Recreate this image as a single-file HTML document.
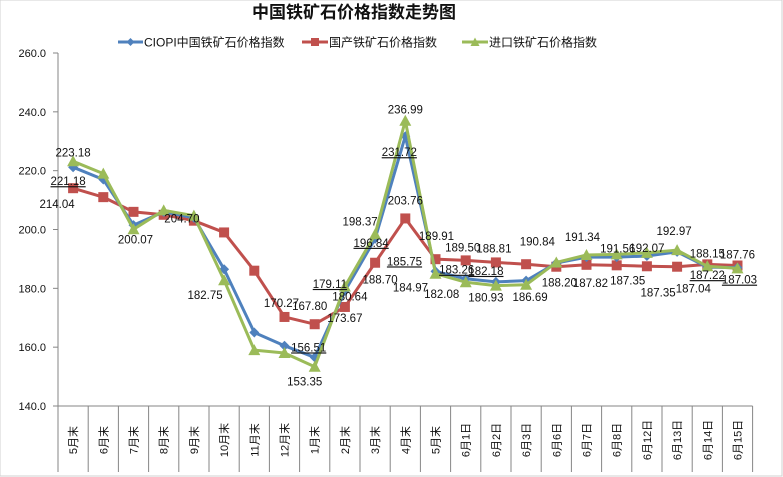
<!DOCTYPE html>
<html><head><meta charset="utf-8"><style>
body{margin:0;background:#fff;}
svg{display:block;font-family:"Liberation Sans","Noto Sans CJK SC",sans-serif;}
</style></head><body>
<svg id="chart" width="783" height="477">
<rect x="0" y="0" width="782" height="476" fill="#fff" stroke="#d0d0d0"/>
<text x="354" y="18" text-anchor="middle" font-size="17" font-weight="bold" fill="#111">中国铁矿石价格指数走势图</text>
<g>
 <g>
  <line x1="118" y1="42" x2="143" y2="42" stroke="#4f81bd" stroke-width="3"/>
  <path d="M130.5 38 L134.5 42 L130.5 46 L126.5 42Z" fill="#4f81bd"/>
  <text x="144" y="46.5" font-size="12" fill="#111">CIOPI中国铁矿石价格指数</text>
 </g>
 <g>
  <line x1="302" y1="42" x2="328" y2="42" stroke="#c0504d" stroke-width="3"/>
  <rect x="311" y="38" width="8" height="8" fill="#c0504d"/>
  <text x="329" y="46.5" font-size="12" fill="#111">国产铁矿石价格指数</text>
 </g>
 <g>
  <line x1="462" y1="42" x2="488" y2="42" stroke="#9bbb59" stroke-width="3"/>
  <path d="M475 37.5 L479.5 46 L470.5 46Z" fill="#9bbb59"/>
  <text x="489" y="46.5" font-size="12" fill="#111">进口铁矿石价格指数</text>
 </g>
</g>
<g id="axes"></g>
<g id="series"></g>
<g id="labels"></g>
</svg>
<script>
const categories=["5月末","6月末","7月末","8月末","9月末","10月末","11月末","12月末","1月末","2月末","3月末","4月末","5月末","6月1日","6月2日","6月3日","6月6日","6月7日","6月8日","6月12日","6月13日","6月14日","6月15日"];
const ciopi=[221.18,217,201.5,206,204,186.5,165,160.5,156.51,179.11,196.84,231.72,185.75,183.26,182.18,182.6,188.6,190.6,190.6,191,192.4,187.22,187.03];
const domestic=[214.04,211,206,205,203,199,186,170.27,167.80,173.67,188.70,203.76,189.91,189.50,188.81,188.2,187.35,188.0,187.82,187.5,187.35,188.15,187.76];
const imported=[223.18,219,200.07,206.5,204.70,182.75,159,158,153.35,180.64,198.37,236.99,184.97,182.08,180.93,181.2,188.8,191.34,191.56,192.07,192.97,187.5,186.8];
const ciopiLabels=["221.18","","","","","","","","156.51","179.11","196.84","231.72","185.75","183.26","182.18","","","","","","","187.22","187.03"];
const domesticLabels=["214.04","","","","","","","170.27","167.80","173.67","188.70","203.76","189.91","189.50","188.81","","188.20","187.82","187.35","","187.35","188.15","187.76"];
const importLabels=["223.18","","200.07","","204.70","182.75","","","153.35","180.64","198.37","236.99","184.97","182.08","180.93","186.69","190.84","191.34","191.56","192.07","192.97","187.04",""];
const yTicks=[140,160,180,200,220,240,260];
const yTickLabels=["140.0","160.0","180.0","200.0","220.0","240.0","260.0"];
// label placement offsets (style, not data)
const ciopiOff=[[-5,18],0,0,0,0,0,0,0,[-6,-6],[-15,-3],[-4,8],[-6,20],[-31,-6],[-9,-5],[-10,-7],0,0,0,0,0,0,[0,12],[2,16]];
const domOff=[[-16,20],0,0,0,0,0,0,[-3,-10],[-5,-14],[0,15],[5,21],[0,-14],[1,-19],[-3,-9],[-2,-10],0,[3,20],[4,22],[11,19],0,[-19,30],[0,-7],[0,-7]];
const impOff=[[0,-5],0,[2,14],0,[-12,7],[-19,19],0,0,[-10,19],[5,14],[-15,-9],[0,-7],[-25,18],[-24,16],[-10,16],[4,16],[-19,-17],[-4,-14],[1,-2],[0,-1],[-3,-15],[-14,26],0];

const NS="http://www.w3.org/2000/svg";
const X0=58,X1=752.6,Y0=406,Y1=53,YMIN=140,YMAX=260;
const cw=(X1-X0)/categories.length;
const xs=i=>X0+cw*(i+0.5);
const ys=v=>Y0-(v-YMIN)/(YMAX-YMIN)*(Y0-Y1);
function mk(tag,attrs,parent){const e=document.createElementNS(NS,tag);for(const k in attrs)e.setAttribute(k,attrs[k]);parent.appendChild(e);return e;}
const axes=document.getElementById('axes');
let a=mk('line',{x1:X0,y1:Y1,x2:X0,y2:Y0,stroke:'#868686'},axes);


a=mk('line',{x1:X0,y1:Y0,x2:X1,y2:Y0,stroke:'#868686'},axes);


yTicks.forEach((v,i)=>{
 mk('line',{x1:X0-5,y1:ys(v),x2:X0,y2:ys(v),stroke:'#868686'},axes);
 const t=mk('text',{x:46,y:ys(v)+4,'text-anchor':'end','font-size':'11',fill:'#111'},axes);
 t.textContent=yTickLabels[i];
 
 
});
for(let i=0;i<=categories.length;i++){
 mk('line',{x1:X0+cw*i,y1:Y0,x2:X0+cw*i,y2:472,stroke:'#868686'},axes);
}
categories.forEach((c,i)=>{
 const t=mk('text',{x:0,y:0,'text-anchor':'middle','font-size':'11',fill:'#111',transform:`translate(${xs(i)+4},440) rotate(-90)`},axes);
 t.textContent=c;
 
 
});
const sg=document.getElementById('series'), lg=document.getElementById('labels');
function drawSeries(vals,color,name,marker){
 const g=mk('g',{},sg);
 
 
 const p=mk('polyline',{points:vals.map((v,i)=>xs(i)+','+ys(v)).join(' '),fill:'none',stroke:color,'stroke-width':'3','stroke-linejoin':'round'},g);
 
 
 vals.forEach((v,i)=>{
  const x=xs(i),y=ys(v);let m;
  if(marker==='d')m=mk('path',{d:`M${x} ${y-5}L${x+5} ${y}L${x} ${y+5}L${x-5} ${y}Z`,fill:color},g);
  else if(marker==='s')m=mk('rect',{x:x-5,y:y-5,width:10,height:10,fill:color},g);
  else m=mk('path',{d:`M${x} ${y-6}L${x+6} ${y+5}L${x-6} ${y+5}Z`,fill:color},g);
  
  
 });
}
drawSeries(domestic,'#c0504d','domestic','s');
drawSeries(ciopi,'#4f81bd','ciopi','d');
drawSeries(imported,'#9bbb59','import','t');
function drawLabels(vals,labels,offs,underline,name){
 vals.forEach((v,i)=>{
  if(!labels[i])return;
  const o=offs[i]||[0,-8];
  const t=mk('text',{x:xs(i)+o[0],y:ys(v)+o[1],'text-anchor':'middle','font-size':'11.5',fill:'#111'},lg);
  if(underline)t.setAttribute('text-decoration','underline');
  t.textContent=labels[i];
  
  
 });
}
drawLabels(ciopi,ciopiLabels,ciopiOff,true,'ciopi');
drawLabels(domestic,domesticLabels,domOff,false,'domestic');
drawLabels(imported,importLabels,impOff,false,'import');
</script>
</body></html>
